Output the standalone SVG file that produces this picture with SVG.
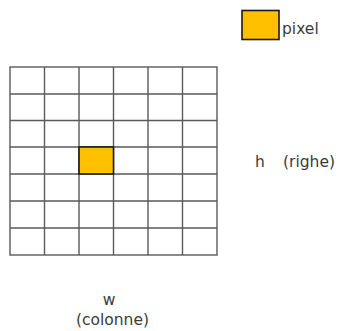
<svg xmlns="http://www.w3.org/2000/svg" width="338" height="331" viewBox="0 0 338 331">
<style>
.g{stroke:#5a5a5a;stroke-width:1.4;fill:none}
.px{fill:#FFC000;stroke:#1a1a1a;stroke-width:1.6}
.t{font-family:"DejaVu Sans",sans-serif;font-size:15.5px;fill:#3c3c3c}
</style>
<rect width="338" height="331" fill="#fff"/>
<g id="grid">
<rect class="g" x="10" y="67" width="207" height="188"/>
<path class="g" d="M44.5 67V255M79 67V255M113.5 67V255M148 67V255M182.5 67V255M10 94H217M10 120.5H217M10 147H217M10 174H217M10 201H217M10 228H217"/>
</g>
<g id="cell">
<rect class="px" x="79" y="147" width="34.5" height="27"/>
</g>
<g id="legend">
<rect class="px" x="242" y="10.5" width="37" height="29"/>
<text class="t" x="282" y="34">pixel</text>
</g>
<g id="h-label">
<text class="t" x="255" y="167">h</text>
<text class="t" x="283" y="167">(righe)</text>
</g>
<g id="w-label">
<text class="t" x="109" y="305" text-anchor="middle">w</text>
<text class="t" x="112.5" y="325" text-anchor="middle">(colonne)</text>
</g>
<g id="connectors"/>
</svg>
